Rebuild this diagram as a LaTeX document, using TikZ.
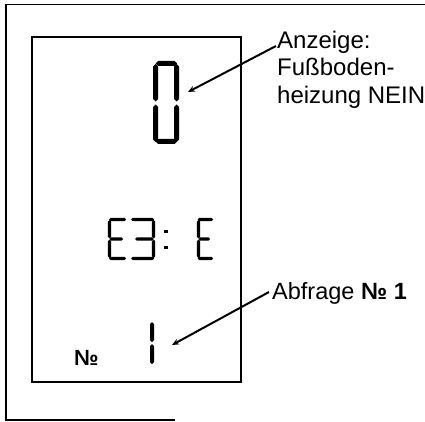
\documentclass[tikz,border=0pt]{standalone}
\usepackage{fontspec}
\setmainfont{Liberation Sans}
\usetikzlibrary{arrows.meta}
\newcommand{\hsegm}[4]{% x1 x2 y t
  \fill (#1,#3) -- (#1+#4/2,#3-#4/2) -- (#2-#4/2,#3-#4/2) -- (#2,#3) -- (#2-#4/2,#3+#4/2) -- (#1+#4/2,#3+#4/2) -- cycle;}
\newcommand{\vsegm}[4]{% x y1 y2 t
  \fill (#1,#2) -- (#1+#4/2,#2+#4/2) -- (#1+#4/2,#3-#4/2) -- (#1,#3) -- (#1-#4/2,#3-#4/2) -- (#1-#4/2,#2+#4/2) -- cycle;}
\begin{document}
\begin{tikzpicture}[x=1pt,y=-1pt,
  frame/.style={line width=1.4pt},
  pointer/.style={line width=2pt,-{Stealth[length=7pt,width=6pt]}},
  lbl/.style={font=\fontsize{24}{27.5}\selectfont,inner sep=0pt,align=left}]
\useasboundingbox (0,0) rectangle (425,422);
% outer frame (open on the right)
\draw[frame] (425,4.5) -- (6,4.5) -- (6,420) -- (175,420);
% LCD panel
\draw[frame] (32,37) rectangle (241,382);
% big digit 0
\hsegm{155.5}{177}{63.5}{5}
\vsegm{155.5}{64}{101.5}{5}
\vsegm{176.5}{64}{101.5}{5}
\vsegm{155.5}{104.5}{142}{5}
\vsegm{176.5}{104.5}{142}{5}
\hsegm{155.5}{177}{141.5}{5}
% E
\hsegm{109}{126}{219.5}{3.2}
\vsegm{109.5}{220}{238.5}{3.2}
\hsegm{109.5}{123}{239}{3.2}
\vsegm{109.5}{239.5}{258}{3.2}
\hsegm{109}{126}{258.5}{3.2}
% 3
\hsegm{131}{154}{219.5}{3.2}
\vsegm{153.5}{220}{238.5}{3.2}
\hsegm{135}{153.5}{239}{3.2}
\vsegm{153.5}{239.5}{258}{3.2}
\hsegm{131}{154}{258.5}{3.2}
% colon
\fill (164,229.5) rectangle (167.5,233);
\fill (164,245.5) rectangle (167.5,249);
% E
\hsegm{197.5}{213}{219.5}{3.2}
\vsegm{198.5}{220}{238.5}{3.2}
\hsegm{198.5}{210}{239}{3.2}
\vsegm{198.5}{239.5}{258}{3.2}
\hsegm{197.5}{213}{258.5}{3.2}
% digit 1
\vsegm{152}{322}{342}{4}
\vsegm{152}{344}{364}{4}
% No sign
\node[anchor=base west,inner sep=0pt,font=\fontsize{22}{22}\selectfont\bfseries] (no) at (74,365) {№};
% labels
\node[lbl,anchor=north west] (anz) at (277,30.5) {Anzeige:\\Fußboden-\\heizung NEIN};
\node[lbl,anchor=base west,font=\fontsize{23.5}{27.5}\selectfont] (abf) at (272,299) {Abfrage \textbf{№ 1}};
\coordinate (anzs) at (276,46);
\coordinate (anze) at (188,92);
\coordinate (abfs) at (269,292);
\coordinate (abfe) at (172,345);
\draw[pointer] (anzs) -- (anze);
\draw[pointer] (abfs) -- (abfe);
\end{tikzpicture}
\end{document}
